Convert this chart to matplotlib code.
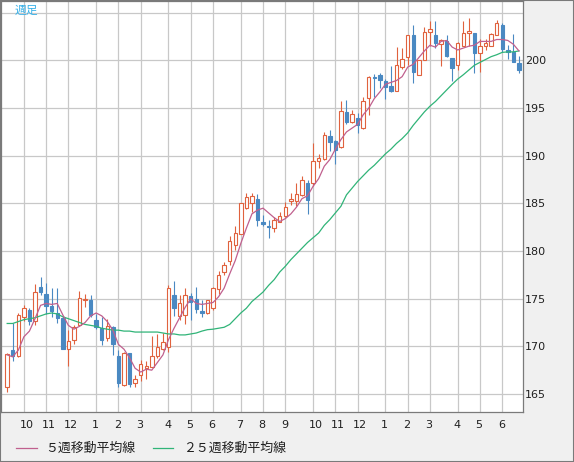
import matplotlib
matplotlib.use('Agg')
import matplotlib.pyplot as plt
import matplotlib.transforms as mtransforms
from matplotlib.lines import Line2D
from matplotlib.patches import Rectangle

# weekly candles
opens = [165.7, 169.6, 169.0, 173.1, 173.8, 172.7, 176.2, 175.5, 174.2, 173.5,
         173.0, 169.7, 170.7, 172.2, 174.9, 174.9, 172.8, 171.9, 170.9, 172.0,
         169.0, 165.9, 169.3, 166.2, 167.0, 167.7, 167.8, 169.0, 169.7, 169.9,
         175.4, 173.2, 173.3, 175.3, 175.0, 173.7, 173.5, 174.0, 176.0, 177.8,
         179.0, 180.6, 181.8, 184.5, 185.0, 185.5, 183.0, 182.6, 182.4, 183.1,
         183.7, 185.3, 185.2, 185.9, 187.1, 187.1, 189.5, 189.7, 192.1, 191.6,
         190.9, 194.6, 193.5, 194.0, 192.9, 196.1, 198.3, 198.5, 197.8, 197.3,
         196.8, 199.3, 200.4, 202.7, 198.5, 200.1, 203.0, 202.7, 201.7, 202.0,
         200.3, 199.5, 201.5, 202.9, 202.9, 200.8, 201.5, 201.5, 202.7, 203.7,
         201.1, 200.9, 199.7]
highs = [169.3, 172.4, 173.5, 174.3, 174.0, 176.5, 177.3, 176.6, 176.1, 176.1,
         173.2, 171.7, 172.2, 175.8, 175.5, 175.4, 173.4, 173.1, 172.9, 172.1,
         169.6, 169.4, 169.3, 167.0, 168.6, 168.5, 171.1, 171.3, 171.4, 176.4,
         176.9, 175.4, 176.1, 175.6, 176.2, 174.9, 174.9, 176.2, 177.9, 178.8,
         181.6, 182.6, 185.0, 186.1, 186.1, 186.0, 183.8, 183.3, 183.6, 184.1,
         185.1, 186.1, 187.1, 187.9, 187.5, 191.3, 190.2, 192.5, 192.7, 191.7,
         195.7, 195.8, 194.8, 194.5, 196.2, 198.4, 198.6, 198.7, 198.1, 199.4,
         201.4, 201.3, 202.7, 203.7, 200.1, 203.5, 204.1, 204.1, 202.2, 202.7,
         200.3, 201.9, 204.1, 204.5, 202.9, 202.2, 202.2, 202.9, 204.2, 203.9,
         201.6, 202.8, 200.5]
lows = [165.2, 168.5, 168.9, 172.7, 172.2, 172.2, 175.4, 173.4, 173.1, 172.4,
        169.7, 167.9, 170.2, 172.1, 174.1, 173.1, 171.8, 170.1, 170.6, 169.1,
        165.7, 165.8, 165.7, 165.7, 166.4, 166.6, 167.8, 168.8, 169.6, 169.4,
        173.2, 172.8, 172.3, 172.8, 173.5, 173.1, 173.4, 173.8, 175.5, 177.5,
        178.5, 180.1, 181.8, 184.4, 184.1, 182.6, 182.6, 181.4, 182.0, 183.0,
        183.6, 184.8, 184.7, 185.8, 183.9, 186.8, 188.7, 189.6, 190.5, 189.1,
        190.8, 193.3, 193.4, 192.4, 192.8, 194.3, 196.2, 197.1, 196.0, 196.7,
        196.8, 199.1, 199.5, 197.6, 198.5, 200.1, 201.5, 201.3, 199.4, 200.4,
        197.8, 199.0, 201.5, 201.5, 198.7, 198.8, 201.1, 201.5, 202.7, 200.9,
        200.2, 199.8, 198.7]
closes = [169.2, 169.0, 173.3, 174.0, 172.7, 175.7, 175.7, 174.2, 173.7, 173.0,
          169.7, 170.6, 172.0, 175.1, 175.0, 173.3, 172.0, 170.7, 172.1, 170.2,
          166.2, 169.3, 166.1, 166.6, 168.1, 167.9, 169.0, 169.9, 170.5, 176.1,
          174.0, 174.6, 175.4, 174.7, 173.9, 173.5, 174.9, 176.1, 177.5, 178.5,
          181.1, 181.9, 185.0, 185.7, 185.8, 183.3, 182.8, 182.5, 183.3, 183.7,
          184.6, 185.5, 186.0, 187.5, 185.4, 189.4, 189.8, 192.2, 191.4, 190.6,
          194.7, 193.5, 194.4, 193.2, 195.7, 198.3, 198.2, 197.9, 197.2, 196.8,
          199.5, 200.2, 202.7, 198.8, 200.1, 203.0, 203.3, 201.8, 202.1, 200.5,
          199.2, 201.8, 202.9, 203.1, 200.8, 201.5, 201.8, 202.8, 203.9, 201.2,
          200.9, 199.8, 199.0]

# moving averages as drawn on the chart
ma5 = [169.1, 168.9, 169.6, 171.0, 171.6, 172.9, 174.3, 174.5, 174.4, 174.5,
       173.3, 172.2, 171.8, 172.1, 172.5, 173.2, 173.5, 173.2, 172.6, 171.7,
       170.2, 169.7, 168.8, 167.7, 167.3, 167.6, 167.5, 168.3, 169.1, 170.7,
       171.9, 173.0, 174.1, 175.0, 174.5, 174.4, 174.5, 174.6, 175.2, 176.1,
       177.6, 179.0, 180.8, 182.4, 183.9, 184.3, 184.5, 184.0, 183.5, 183.1,
       183.4, 183.9, 184.6, 185.5, 185.8, 186.8, 187.6, 188.9, 189.6, 190.7,
       191.7, 192.5, 192.9, 193.3, 194.3, 195.0, 196.0, 196.7, 197.5, 197.7,
       197.9, 198.3, 199.3, 199.6, 200.3, 201.0, 201.6, 201.4, 202.0, 202.1,
       201.4, 201.1, 201.3, 201.5, 201.6, 202.0, 202.0, 202.0, 202.2, 202.2,
       202.1, 201.7, 201.0]
ma25 = [172.4, 172.4, 172.6, 172.8, 172.9, 173.0, 173.2, 173.4, 173.5, 173.4,
        173.1, 172.9, 172.7, 172.5, 172.3, 172.2, 172.1, 171.9, 171.8, 171.7,
        171.7, 171.6, 171.6, 171.5, 171.5, 171.5, 171.5, 171.5, 171.4, 171.3,
        171.3, 171.2, 171.2, 171.3, 171.4, 171.6, 171.75, 171.8, 171.9, 172.0,
        172.3, 172.9, 173.5, 174.0, 174.7, 175.2, 175.7, 176.4, 177.0, 177.8,
        178.4, 179.1, 179.7, 180.3, 180.9, 181.4, 181.9, 182.7, 183.3, 184.0,
        184.7, 185.9, 186.6, 187.3, 187.9, 188.5, 189.0, 189.6, 190.2, 190.7,
        191.3, 191.8, 192.4, 193.2, 193.9, 194.6, 195.2, 195.7, 196.3, 196.9,
        197.5, 198.05, 198.5, 199.0, 199.5, 199.8, 200.1, 200.4, 200.6, 200.85,
        200.9, 200.9, 201.0]

# first week of each month
month_idx = [3, 7, 11, 16, 20, 24, 29, 33, 37, 42, 46, 50, 55, 59, 63, 68, 72, 76, 81, 85, 89]
month_labels = ['10', '11', '12', '1', '2', '3', '4', '5', '6', '7', '8', '9',
                '10', '11', '12', '1', '2', '3', '4', '5', '6']
price_ticks = [165, 170, 175, 180, 185, 190, 195, 200, 205]

UP = '#e0623e'
DOWN = '#4a89c2'
PINK = '#c0608e'
GREEN = '#30b478'

W, H = 574, 462
plt.rcParams['font.family'] = ['Noto Sans CJK JP', 'DejaVu Sans']

fig = plt.figure(figsize=(W / 100, H / 100), dpi=100, facecolor='#f0f0f0')
ax = fig.add_axes([0.5 / W, 50 / H, 522.5 / W, 411 / H])
ax.set_facecolor('white')

weeks = list(range(len(closes)))
ax.set_xlim(-1.2, 92.73)
ax.set_ylim(163.11, 206.24)

# candles
up = [c >= o for o, c in zip(opens, closes)]
cols = [UP if u else DOWN for u in up]
ax.vlines(weeks, lows, highs, colors=cols, linewidth=0.8, zorder=2)
bottoms = [min(o, c) for o, c in zip(opens, closes)]
heights = [max(abs(c - o), 0.05) for o, c in zip(opens, closes)]
faces = ['white' if u else DOWN for u in up]
ax.bar(weeks, heights, bottom=bottoms, width=0.62, color=faces, edgecolor=cols,
       linewidth=0.8, zorder=3)

ax.plot(weeks, ma25, color=GREEN, lw=0.9, zorder=4)
ax.plot(weeks, ma5, color=PINK, lw=0.9, zorder=4)

# grid + ticks
ax.set_xticks(month_idx)
ax.set_xticklabels([])
ax.set_yticks(price_ticks)
ax.set_yticklabels([str(p) if p < 205 else '' for p in price_ticks], family='DejaVu Sans')
ax.yaxis.tick_right()
ax.tick_params(axis='both', length=0, labelsize=8, colors='#202020', pad=1.5)
ax.grid(True, color='#c8c8c8', linewidth=0.9)
ax.set_axisbelow(True)
for s in ax.spines.values():
    s.set_color('#7a7a7a')
    s.set_linewidth(0.9)

shift = mtransforms.ScaledTranslation(-4.5 / 100, 0, fig.dpi_scale_trans)
for m, lab in zip(month_idx, month_labels):
    ax.text(m, -13.5 / 411, lab, transform=ax.get_xaxis_transform() + shift,
            ha='left', va='center', fontsize=8, family='DejaVu Sans', color='#202020')

fig.text(15 / W, 1 - 10 / H, '週足', color='#36b0e8', fontsize=8.5, ha='left', va='center')

# legend
ly = 1 - 448 / H
fig.add_artist(Line2D([16 / W, 37 / W], [ly, ly], color=PINK, lw=0.9))
fig.text(45 / W, ly, '５週移動平均線', fontsize=9.3, ha='left', va='center', color='#202020')
fig.add_artist(Line2D([153 / W, 173 / W], [ly, ly], color=GREEN, lw=0.9))
fig.text(183 / W, ly, '２５週移動平均線', fontsize=9.3, ha='left', va='center', color='#202020')

fig.add_artist(Rectangle((0, 0), 1, 1, transform=fig.transFigure, fill=False,
                         edgecolor='#7a7a7a', lw=1.5))

fig.savefig('out.png', dpi=100, facecolor=fig.get_facecolor())
